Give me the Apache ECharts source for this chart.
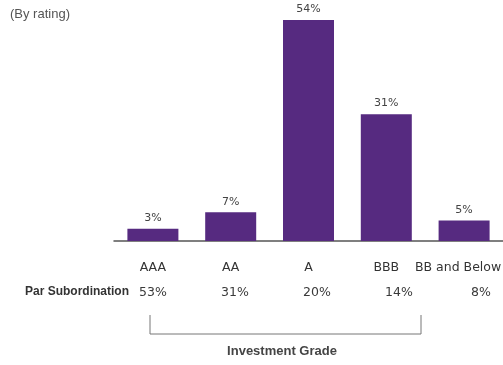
<!DOCTYPE html>
<html><head><meta charset="utf-8">
<script src="https://cdn.jsdelivr.net/npm/echarts@6/dist/echarts.min.js"></script>
<style>html,body{margin:0;padding:0;background:#fff}#c{width:503px;height:365px}</style>
</head><body><div id="c"></div>
<script>
const categories = ['AAA', 'AA', 'A', 'BBB', 'BB and Below'];
const shares = [3, 7, 54, 31, 5];
const parSubordination = ['53%', '31%', '20%', '14%', '8%'];
const subtitle = '(By rating)';
const rowTitle = 'Par Subordination';
const bracketTitle = 'Investment Grade';

const chart = echarts.init(document.getElementById('c'), null, {renderer: 'canvas'});
const labelFont = 'DejaVu Sans';
chart.setOption({
  animation: false,
  grid: [
    {left: 114, right: 0, top: 20, bottom: 124, outerBoundsMode: 'none', containLabel: false},
    {left: 153, right: 22, top: 20, bottom: 124, outerBoundsMode: 'none', containLabel: false}
  ],
  xAxis: [{
    type: 'category', data: categories, gridIndex: 0,
    axisLine: {lineStyle: {color: '#555', width: 1.5}},
    axisTick: {show: false},
    axisLabel: {interval: 0, color: '#333', fontFamily: labelFont, fontSize: 12.5, margin: 20,
      formatter: (v, i) => i === categories.length - 1 ? '{edge|' + v + '}' : v,
      rich: {edge: {fontFamily: labelFont, fontSize: 12.5, color: '#333', padding: [0, 12, 0, 0]}}}
  }, {
    type: 'category', data: parSubordination, gridIndex: 1, boundaryGap: false,
    axisLine: {show: false}, axisTick: {show: false},
    axisLabel: {interval: 0, color: '#3a3a3a', fontFamily: labelFont, fontSize: 12.5, margin: 45}
  }],
  yAxis: [
    {type: 'value', min: 0, max: 54, show: false, gridIndex: 0},
    {type: 'value', min: 0, max: 54, show: false, gridIndex: 1}
  ],
  series: [{
    type: 'bar', data: shares, barWidth: 51,
    itemStyle: {color: '#562a80'},
    label: {show: true, position: 'top', distance: 5, formatter: '{c}%',
      color: '#444', fontFamily: labelFont, fontSize: 11}
  }],
  graphic: [
    {type: 'text', left: 10, top: 8, style: {text: subtitle, fill: '#555', font: '13px Liberation Sans, Arial'}},
    {type: 'text', left: 25, top: 286, style: {text: rowTitle, fill: '#333', font: 'bold 12px Liberation Sans, Arial'}},
    {type: 'polyline', shape: {points: [[150, 315], [150, 334], [421, 334], [421, 315]]},
      style: {stroke: '#777', lineWidth: 1, fill: null}},
    {type: 'text', x: 282, y: 345, style: {text: bracketTitle, fill: '#444', font: 'bold 13px Liberation Sans, Arial', textAlign: 'center'}}
  ]
});
</script></body></html>
